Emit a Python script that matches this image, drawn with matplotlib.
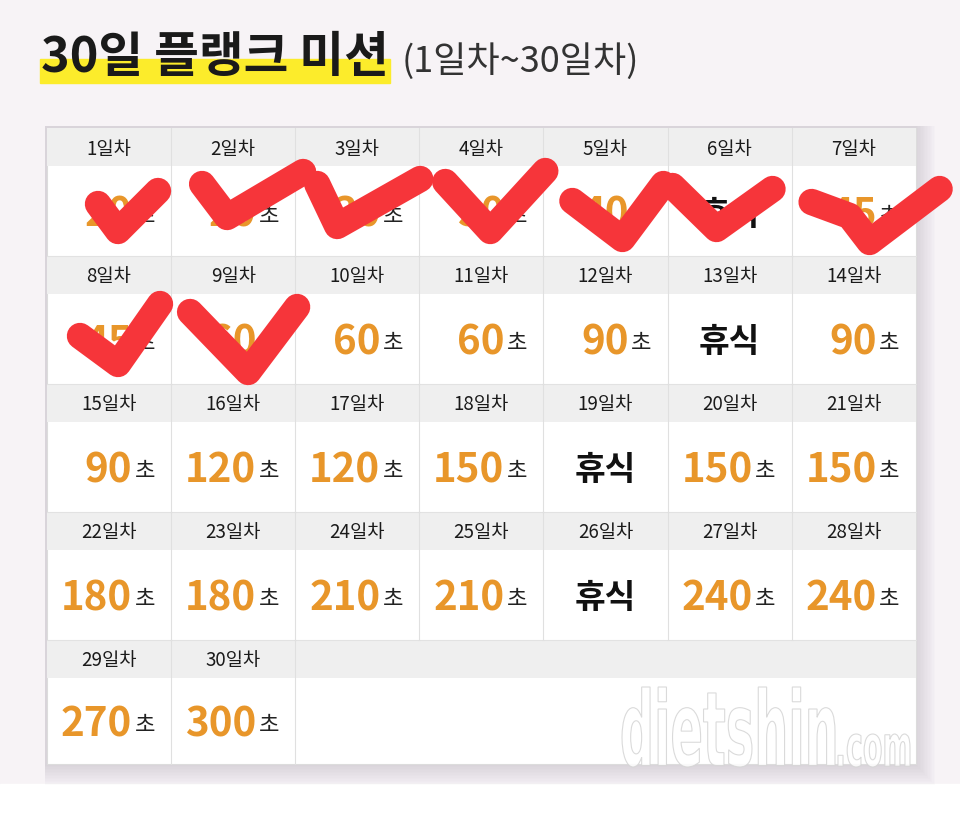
import numpy as np
import matplotlib
matplotlib.use('Agg')
import matplotlib.pyplot as plt
from matplotlib.patches import Rectangle, PathPatch
from matplotlib.textpath import TextPath
from matplotlib.font_manager import FontProperties
from matplotlib.transforms import Affine2D

plt.rcParams['font.family'] = ['Noto Sans CJK KR', 'DejaVu Sans']

# plan data
title = '30일 플랭크 미션'
subtitle = '(1일차~30일차)'
days = list(range(1, 31))
seconds = [20, 20, 30, 30, 40, None, 45, 45, 60, 60,
           60, 90, None, 90, 90, 120, 120, 150, None, 150,
           150, 180, 180, 210, 210, None, 240, 240, 270, 300]
rest_label = '휴식'
unit = '초'
done_days = 9

# hand drawn checks, offsets inside the value cell of each finished day
checks = [
    [(51, 38), (71, 65), (111, 25)],
    [(31, 18), (56, 51), (132, 6)],
    [(22, 18), (42, 60), (125, 13)],
    [(26, 16), (71, 65), (126, 5)],
    [(29, 35), (79, 73), (120, 18)],
    [(5, 20), (49, 63), (105, 23)],
    [(20, 36), (58, 50), (78, 76), (148, 23)],
    [(33, 42), (71, 70), (113, 10)],
    [(19, 18), (77, 78), (126, 13)],
]

ncols = 7
x0, y0 = 47, 129
col_w = 124.1
head_h, body_h = 38, 90
row_pitch = 128
last_body_h = 86

fig = plt.figure(figsize=(9.6, 8.2), dpi=100)
ax = fig.add_axes([0, 0, 1, 1])
ax.set_xlim(0, 960)
ax.set_ylim(820, 0)
ax.axis('off')

# page background
ax.add_patch(Rectangle((0, 0), 960, 785, color='#f7f3f6', zorder=0))
ax.add_patch(Rectangle((0, 785), 960, 35, color='white', zorder=0))

# title with marker highlight
ax.add_patch(Rectangle((40, 60), 350, 24, color='#fcec2b', zorder=1))
ax.text(41, 58, title, fontsize=35, fontweight='bold', color='#1a1a1a',
        va='center', ha='left', zorder=2)
ax.text(402, 62, subtitle, fontsize=26, color='#333333',
        va='center', ha='left', zorder=2)

nrows = int(np.ceil(len(days) / ncols))
table_w = ncols * col_w
table_h = (nrows - 1) * row_pitch + head_h + last_body_h

# soft shadow, mostly to the right and below
for k in range(14, 0, -1):
    ax.add_patch(Rectangle((x0 - 2, y0 - 2), table_w + 2 + k * 1.4, table_h + 2 + k * 1.5,
                           facecolor='#8c8490', alpha=0.02, edgecolor='none', zorder=1))
ax.add_patch(Rectangle((x0, y0), table_w, table_h, facecolor='white',
                       edgecolor='#dcdcdc', lw=0.8, zorder=2))

for r in range(nrows):
    top = y0 + r * row_pitch
    ax.add_patch(Rectangle((x0, top), table_w, head_h, facecolor='#efefef',
                           edgecolor='none', zorder=2))
    if r > 0:
        ax.plot([x0, x0 + table_w], [top, top], color='#e2e2e2', lw=0.8, zorder=3)

for i, d in enumerate(days):
    r, c = divmod(i, ncols)
    left = x0 + c * col_w
    top = y0 + r * row_pitch
    bh = last_body_h if r == nrows - 1 else body_h
    if c > 0:
        ax.plot([left, left], [top, top + head_h + bh], color='#e0e0e0', lw=0.8, zorder=3)
    ax.text(left + col_w / 2, top + head_h / 2 + 1, f'{d}일차', fontsize=13.5,
            color='#1a1a1a', ha='center', va='center', zorder=4)
    cy = top + head_h + bh / 2 + 3
    v = seconds[i]
    if v is None:
        ax.text(left + col_w / 2, cy, rest_label, fontsize=24, fontweight='bold',
                color='#111111', ha='center', va='center', zorder=4)
    else:
        ax.text(left + col_w - 39, cy, str(v), fontsize=29, fontweight='bold',
                color='#e8962a', ha='right', va='center', zorder=4)
        ax.text(left + col_w - 16, cy + 1, unit, fontsize=16,
                color='#222222', ha='right', va='center', zorder=4)

# last row: close off the empty part
last = len(days) % ncols
if last:
    left = x0 + last * col_w
    top = y0 + (nrows - 1) * row_pitch
    ax.plot([left, left], [top, top + head_h + last_body_h], color='#e0e0e0', lw=0.8, zorder=3)

# watermark
prop = FontProperties(family='DejaVu Sans', weight='bold')
for word, (bx, by, bw, bh) in [('dietshin', (622, 768, 213, 80)), ('.com', (838, 768, 72, 33))]:
    tp = TextPath((0, 0), word, size=1, prop=prop)
    ext = tp.get_extents()
    tr = Affine2D().translate(-ext.x0, -ext.y0).scale(bw / ext.width, -bh / ext.height).translate(bx, by)
    ax.add_patch(PathPatch(tr.transform_path(tp), facecolor='white', alpha=0.85,
                           edgecolor='#d4d4d4', lw=0.8, zorder=5))

# red check marks over finished days
for i in range(done_days):
    r, c = divmod(i, ncols)
    left = x0 + c * col_w
    top = y0 + r * row_pitch + head_h
    pts = np.array(checks[i], dtype=float)
    ax.plot(left + pts[:, 0], top + pts[:, 1], color='#f6353a', lw=19,
            solid_capstyle='round', solid_joinstyle='round', zorder=6)

fig.savefig('out.png', dpi=100)
